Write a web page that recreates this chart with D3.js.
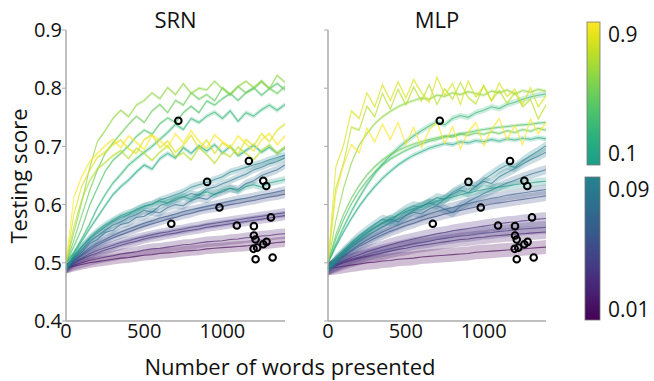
<!DOCTYPE html>
<html><head><meta charset="utf-8">
<script src="https://cdn.jsdelivr.net/npm/d3@7"></script>
<style>body{margin:0;background:#fff}svg{display:block}text{font-family:"Open Sans",sans-serif;fill:#111}</style>
</head><body><svg id="c" width="654" height="381"></svg>
<script>
const wordsPresented = [0,50,100,150,200,250,300,350,400,450,500,550,600,650,700,750,800,850,900,950,1000,1050,1100,1150,1200,1250,1300,1350,1400];
const learningRates = [0.01,0.02,0.03,0.04,0.05,0.06,0.07,0.08,0.09,0.1,0.2,0.3,0.4,0.5,0.6,0.7,0.8,0.9];
const yTicks = [0.4,0.5,0.6,0.7,0.8,0.9];
const xTicks = [0,500,1000];
const panelTitles = ["SRN","MLP"];

const srnScores = [
[0.490,0.494,0.497,0.500,0.502,0.504,0.506,0.508,0.509,0.511,0.513,0.514,0.516,0.517,0.518,0.520,0.521,0.522,0.524,0.525,0.526,0.527,0.528,0.529,0.531,0.532,0.533,0.535,0.536],
[0.490,0.496,0.500,0.504,0.507,0.510,0.512,0.515,0.517,0.519,0.522,0.524,0.525,0.527,0.529,0.531,0.532,0.534,0.536,0.537,0.538,0.540,0.541,0.543,0.544,0.546,0.547,0.549,0.550],
[0.490,0.499,0.506,0.512,0.517,0.522,0.526,0.530,0.534,0.537,0.541,0.544,0.546,0.549,0.551,0.554,0.556,0.558,0.561,0.563,0.565,0.567,0.569,0.571,0.573,0.575,0.577,0.579,0.581],
[0.490,0.500,0.508,0.515,0.521,0.526,0.530,0.535,0.538,0.542,0.545,0.548,0.551,0.553,0.556,0.558,0.561,0.563,0.566,0.568,0.570,0.572,0.574,0.576,0.578,0.580,0.582,0.584,0.586],
[0.490,0.503,0.513,0.522,0.530,0.537,0.543,0.548,0.553,0.558,0.563,0.567,0.571,0.575,0.578,0.582,0.585,0.589,0.592,0.594,0.597,0.600,0.602,0.605,0.607,0.610,0.613,0.615,0.618],
[0.490,0.504,0.515,0.525,0.533,0.540,0.547,0.553,0.558,0.563,0.568,0.572,0.577,0.580,0.584,0.588,0.591,0.594,0.597,0.600,0.603,0.606,0.609,0.611,0.614,0.617,0.619,0.622,0.625],
[0.490,0.507,0.518,0.533,0.540,0.552,0.556,0.566,0.569,0.578,0.580,0.588,0.586,0.595,0.600,0.598,0.607,0.612,0.609,0.618,0.622,0.628,0.626,0.636,0.641,0.650,0.655,0.660,0.668],
[0.490,0.509,0.522,0.536,0.546,0.555,0.565,0.570,0.578,0.583,0.590,0.587,0.598,0.603,0.608,0.613,0.619,0.616,0.627,0.630,0.636,0.641,0.647,0.652,0.660,0.664,0.670,0.674,0.680],
[0.490,0.511,0.527,0.541,0.552,0.562,0.571,0.578,0.583,0.592,0.597,0.601,0.608,0.612,0.617,0.622,0.630,0.634,0.638,0.643,0.648,0.656,0.660,0.664,0.668,0.672,0.677,0.681,0.685],
[0.490,0.512,0.528,0.543,0.555,0.565,0.573,0.581,0.586,0.590,0.597,0.600,0.606,0.603,0.611,0.614,0.609,0.618,0.622,0.617,0.625,0.628,0.623,0.631,0.634,0.630,0.637,0.640,0.643],
[0.500,0.516,0.537,0.558,0.578,0.598,0.617,0.631,0.642,0.656,0.668,0.661,0.679,0.688,0.680,0.698,0.688,0.701,0.692,0.703,0.689,0.700,0.684,0.693,0.702,0.690,0.699,0.688,0.697],
[0.500,0.518,0.541,0.566,0.594,0.617,0.637,0.652,0.668,0.679,0.690,0.700,0.712,0.724,0.738,0.729,0.748,0.741,0.752,0.759,0.748,0.761,0.743,0.758,0.752,0.763,0.771,0.762,0.772],
[0.500,0.528,0.558,0.598,0.628,0.657,0.676,0.688,0.701,0.717,0.728,0.721,0.739,0.749,0.741,0.758,0.769,0.758,0.778,0.771,0.782,0.791,0.779,0.792,0.801,0.788,0.799,0.808,0.797],
[0.500,0.538,0.581,0.623,0.659,0.688,0.706,0.722,0.738,0.752,0.741,0.761,0.772,0.758,0.779,0.771,0.792,0.781,0.789,0.778,0.801,0.788,0.803,0.792,0.799,0.811,0.800,0.791,0.803],
[0.500,0.551,0.603,0.662,0.708,0.727,0.748,0.762,0.751,0.771,0.779,0.792,0.782,0.801,0.789,0.808,0.791,0.800,0.797,0.812,0.799,0.790,0.803,0.812,0.801,0.813,0.799,0.822,0.810],
[0.500,0.562,0.608,0.640,0.661,0.672,0.684,0.693,0.679,0.697,0.688,0.676,0.690,0.701,0.682,0.689,0.677,0.698,0.686,0.671,0.690,0.682,0.699,0.688,0.677,0.693,0.703,0.688,0.700],
[0.500,0.583,0.631,0.658,0.681,0.690,0.703,0.711,0.696,0.688,0.712,0.720,0.698,0.709,0.690,0.702,0.719,0.696,0.711,0.688,0.706,0.699,0.686,0.712,0.701,0.722,0.708,0.728,0.738],
[0.500,0.612,0.648,0.673,0.688,0.701,0.712,0.698,0.718,0.707,0.695,0.719,0.710,0.698,0.722,0.706,0.727,0.709,0.697,0.720,0.708,0.697,0.718,0.705,0.692,0.711,0.722,0.703,0.718]
];
const srnStd = [0.009,0.009,0.008,0.008,0.007,0.007,0.007,0.006,0.006,0.006,0.004,0.004,0.003,0.003,0.003,0.003,0.003,0.003];

const mlpScores = [
[0.490,0.492,0.494,0.496,0.498,0.500,0.501,0.503,0.504,0.506,0.507,0.508,0.510,0.511,0.512,0.513,0.514,0.515,0.516,0.518,0.519,0.520,0.521,0.522,0.523,0.524,0.525,0.526,0.527],
[0.490,0.495,0.500,0.504,0.508,0.511,0.514,0.517,0.520,0.523,0.525,0.528,0.530,0.532,0.534,0.536,0.538,0.540,0.541,0.543,0.544,0.546,0.547,0.548,0.549,0.550,0.551,0.552,0.553],
[0.490,0.497,0.503,0.509,0.514,0.519,0.523,0.527,0.531,0.535,0.538,0.541,0.544,0.547,0.550,0.552,0.555,0.557,0.559,0.561,0.563,0.565,0.567,0.569,0.570,0.572,0.573,0.575,0.576],
[0.490,0.496,0.501,0.506,0.510,0.514,0.518,0.521,0.524,0.527,0.530,0.533,0.535,0.537,0.540,0.542,0.544,0.546,0.547,0.549,0.551,0.552,0.554,0.555,0.557,0.558,0.559,0.560,0.561],
[0.490,0.501,0.511,0.520,0.528,0.535,0.542,0.548,0.554,0.559,0.564,0.568,0.573,0.577,0.580,0.584,0.587,0.590,0.593,0.596,0.598,0.601,0.603,0.605,0.607,0.609,0.611,0.613,0.615],
[0.490,0.502,0.513,0.522,0.531,0.539,0.546,0.553,0.559,0.565,0.570,0.575,0.579,0.584,0.588,0.592,0.595,0.599,0.602,0.605,0.608,0.611,0.613,0.616,0.618,0.620,0.622,0.624,0.626],
[0.490,0.504,0.516,0.527,0.537,0.546,0.554,0.562,0.569,0.575,0.581,0.587,0.584,0.593,0.598,0.592,0.586,0.597,0.605,0.612,0.619,0.625,0.631,0.637,0.642,0.647,0.652,0.656,0.660],
[0.490,0.505,0.518,0.531,0.541,0.551,0.560,0.568,0.575,0.570,0.582,0.590,0.597,0.603,0.599,0.610,0.618,0.625,0.620,0.632,0.640,0.636,0.648,0.655,0.662,0.670,0.677,0.683,0.690],
[0.490,0.507,0.521,0.534,0.546,0.556,0.566,0.575,0.571,0.583,0.592,0.598,0.595,0.604,0.612,0.609,0.621,0.628,0.635,0.631,0.643,0.652,0.661,0.668,0.664,0.675,0.684,0.692,0.701],
[0.490,0.505,0.519,0.531,0.542,0.552,0.561,0.569,0.576,0.582,0.588,0.593,0.598,0.602,0.606,0.610,0.613,0.617,0.620,0.623,0.626,0.628,0.630,0.632,0.634,0.636,0.637,0.639,0.640],
[0.500,0.528,0.553,0.576,0.597,0.615,0.631,0.645,0.657,0.668,0.677,0.685,0.691,0.697,0.701,0.705,0.703,0.708,0.706,0.710,0.708,0.712,0.709,0.713,0.711,0.714,0.712,0.715,0.713],
[0.500,0.532,0.561,0.588,0.612,0.634,0.653,0.670,0.684,0.697,0.708,0.718,0.727,0.735,0.742,0.737,0.748,0.753,0.750,0.758,0.762,0.768,0.765,0.772,0.776,0.781,0.785,0.788,0.790],
[0.500,0.541,0.574,0.601,0.623,0.641,0.656,0.668,0.678,0.686,0.693,0.699,0.704,0.709,0.712,0.716,0.719,0.722,0.724,0.727,0.729,0.731,0.733,0.734,0.736,0.737,0.738,0.740,0.741],
[0.500,0.548,0.583,0.611,0.633,0.651,0.665,0.677,0.686,0.693,0.699,0.704,0.708,0.712,0.715,0.718,0.716,0.721,0.719,0.723,0.721,0.725,0.722,0.727,0.724,0.729,0.726,0.731,0.728],
[0.500,0.572,0.628,0.671,0.702,0.722,0.739,0.751,0.760,0.768,0.774,0.779,0.783,0.781,0.788,0.786,0.792,0.789,0.794,0.791,0.788,0.795,0.792,0.797,0.790,0.796,0.793,0.798,0.795],
[0.500,0.628,0.671,0.733,0.728,0.769,0.751,0.791,0.764,0.798,0.771,0.802,0.778,0.806,0.772,0.799,0.781,0.810,0.784,0.773,0.805,0.779,0.796,0.774,0.792,0.768,0.781,0.747,0.771],
[0.500,0.665,0.702,0.761,0.748,0.792,0.768,0.806,0.779,0.811,0.783,0.815,0.792,0.776,0.819,0.788,0.808,0.772,0.812,0.785,0.803,0.778,0.809,0.786,0.798,0.772,0.801,0.768,0.787],
[0.500,0.618,0.668,0.703,0.689,0.731,0.708,0.738,0.712,0.741,0.703,0.733,0.698,0.728,0.742,0.705,0.734,0.696,0.725,0.741,0.701,0.729,0.748,0.712,0.736,0.703,0.747,0.722,0.741]
];
const mlpStd = [0.012,0.012,0.011,0.011,0.009,0.009,0.008,0.008,0.008,0.007,0.004,0.005,0.003,0.003,0.003,0.003,0.003,0.003];

const humanWords = [718,1169,902,1261,1280,981,673,1092,1310,1201,1201,1212,1199,1222,1261,1282,1212,1321];
const humanScores = [0.744,0.675,0.639,0.641,0.632,0.595,0.567,0.564,0.578,0.563,0.547,0.540,0.524,0.526,0.532,0.536,0.506,0.509];

const colorbarHighTicks = [0.9,0.1];
const colorbarLowTicks = [0.09,0.01];

// ---- drawing ----
const svg = d3.select("#c");
function lrColor(v){
  const t = v >= 0.1 ? 0.55 + (v-0.1)/0.8*0.45 : (v-0.01)/0.08*0.45;
  return d3.interpolateViridis(t);
}
const y = d3.scaleLinear().domain([0.4,0.9]).range([321,30]);
const panels = [
  {x0:66, x1:285, scores:srnScores, std:srnStd, title:panelTitles[0], labels:true},
  {x0:328, x1:546, scores:mlpScores, std:mlpStd, title:panelTitles[1], labels:false}
];
const spine = "#aaaaaa";
panels.forEach(p=>{
  const x = d3.scaleLinear().domain([0,1400]).range([p.x0,p.x1]);
  const g = svg.append("g");
  p.scores.forEach((s,i)=>{
    const c = lrColor(learningRates[i]);
    const pts = wordsPresented.map((w,j)=>({w, v:s[j]}));
    g.append("path").attr("d", d3.area().x(d=>x(d.w)).y0(d=>y(d.v-p.std[i])).y1(d=>y(d.v+p.std[i]))(pts))
      .attr("fill", c).attr("fill-opacity", 0.25).attr("stroke","none");
    g.append("path").attr("d", d3.line().x(d=>x(d.w)).y(d=>y(d.v))(pts))
      .attr("fill","none").attr("stroke", c).attr("stroke-opacity",0.65).attr("stroke-width",1.1);
  });
  g.selectAll("circle.h").data(humanWords.map((w,i)=>[w,humanScores[i]])).enter().append("circle")
    .attr("cx",d=>x(d[0])).attr("cy",d=>y(d[1])).attr("r",3.3)
    .attr("fill","none").attr("stroke","#000").attr("stroke-width",2);
  g.append("line").attr("x1",p.x0).attr("x2",p.x0).attr("y1",y(0.9)).attr("y2",y(0.4)).attr("stroke",spine).attr("stroke-width",1.5);
  g.append("line").attr("x1",p.x0).attr("x2",p.x1).attr("y1",y(0.4)).attr("y2",y(0.4)).attr("stroke",spine).attr("stroke-width",1.5);
  yTicks.forEach(t=>{
    g.append("line").attr("x1",p.x0-4).attr("x2",p.x0).attr("y1",y(t)).attr("y2",y(t)).attr("stroke",spine).attr("stroke-width",1);
    if(p.labels) g.append("text").attr("x",p.x0-4).attr("y",y(t)).attr("dy","0.36em").attr("text-anchor","end").attr("font-size",20).text(t.toFixed(1));
  });
  xTicks.forEach(t=>{
    g.append("text").attr("x",x(t)).attr("y",338).attr("text-anchor","middle").attr("font-size",20).text(t);
  });
  g.append("text").attr("x",(p.x0+p.x1)/2).attr("y",28).attr("text-anchor","middle").attr("font-size",22).text(p.title);
});
svg.append("text").attr("transform","translate(27,176) rotate(-90)").attr("text-anchor","middle").attr("font-size",22).text("Testing score");
svg.append("text").attr("x",290).attr("y",375).attr("text-anchor","middle").attr("font-size",22).text("Number of words presented");

const defs = svg.append("defs");
function grad(id,t0,t1){
  const gr = defs.append("linearGradient").attr("id",id).attr("x1",0).attr("y1",1).attr("x2",0).attr("y2",0);
  d3.range(0,11).forEach(k=>{
    gr.append("stop").attr("offset",k/10).attr("stop-color",d3.interpolateViridis(t0+(t1-t0)*k/10));
  });
}
grad("gHigh",0.55,1);
grad("gLow",0,0.45);
const cbHigh = d3.scaleLinear().domain([0.1,0.9]).range([153,34]);
const cbLow = d3.scaleLinear().domain([0.01,0.09]).range([309,189]);
svg.append("rect").attr("x",587).attr("y",22).attr("width",13).attr("height",143).attr("fill","url(#gHigh)").attr("stroke","#777").attr("stroke-width",0.8);
svg.append("rect").attr("x",585).attr("y",177).attr("width",15).attr("height",143).attr("fill","url(#gLow)").attr("stroke","#777").attr("stroke-width",0.8);
colorbarHighTicks.forEach(t=>svg.append("text").attr("x",608).attr("y",cbHigh(t)).attr("dy","0.36em").attr("font-size",21).text(t));
colorbarLowTicks.forEach(t=>svg.append("text").attr("x",608).attr("y",cbLow(t)).attr("dy","0.36em").attr("font-size",21).text(t));
</script></body></html>
